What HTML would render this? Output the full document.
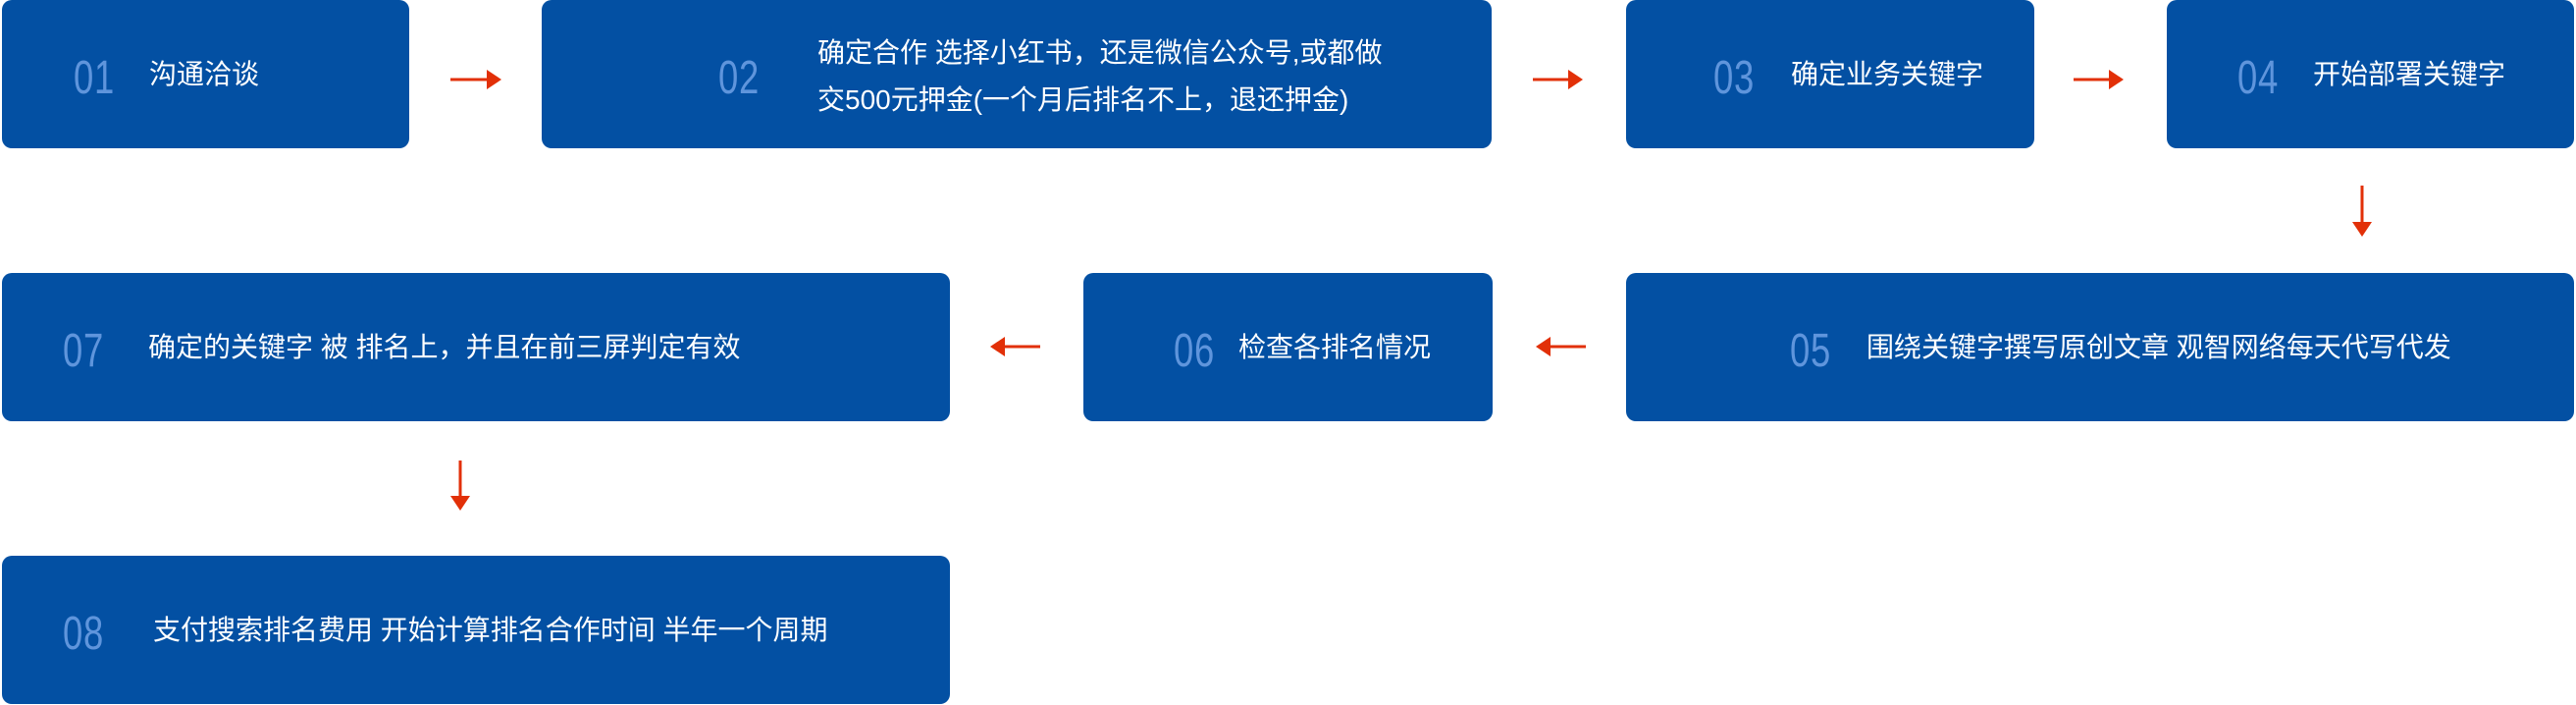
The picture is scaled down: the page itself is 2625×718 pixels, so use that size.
<!DOCTYPE html>
<html><head><meta charset="utf-8"><style>
body{margin:0;width:2625px;height:718px;background:#fff;position:relative;overflow:hidden;font-family:"Liberation Sans","Noto Sans CJK SC",sans-serif}
.b{position:absolute;background:#0350a3;border-radius:10px}
.n{position:absolute;color:#5f95dc;font-size:48px;font-weight:300;line-height:1;transform:scaleX(0.76);transform-origin:left center;letter-spacing:1px}
.t{position:absolute;color:#fff;font-size:28px;line-height:1;white-space:nowrap}
svg{position:absolute;left:0;top:0}
</style></head><body>
<div class="b" style="left:2px;top:0;width:415px;height:151px"></div>
<div class="b" style="left:552px;top:0;width:968px;height:151px"></div>
<div class="b" style="left:1657px;top:0;width:416px;height:151px"></div>
<div class="b" style="left:2208px;top:0;width:415px;height:151px"></div>
<div class="b" style="left:2px;top:278px;width:966px;height:151px"></div>
<div class="b" style="left:1104px;top:278px;width:417px;height:151px"></div>
<div class="b" style="left:1657px;top:278px;width:966px;height:151px"></div>
<div class="b" style="left:2px;top:566px;width:966px;height:151px"></div>

<div class="n" style="left:75px;top:56px">01</div><div class="t" style="left:152px;top:62px">沟通洽谈</div>
<div class="n" style="left:732px;top:56px">02</div>
<div class="t" style="left:833px;top:40px">确定合作 选择小红书，还是微信公众号,或都做</div>
<div class="t" style="left:833px;top:88px">交500元押金(一个月后排名不上，退还押金)</div>
<div class="n" style="left:1746px;top:56px">03</div><div class="t" style="left:1825px;top:62px">确定业务关键字</div>
<div class="n" style="left:2280px;top:56px">04</div><div class="t" style="left:2357px;top:62px">开始部署关键字</div>
<div class="n" style="left:1824px;top:334px">05</div><div class="t" style="left:1902px;top:340px">围绕关键字撰写原创文章 观智网络每天代写代发</div>
<div class="n" style="left:1196px;top:334px">06</div><div class="t" style="left:1262px;top:340px">检查各排名情况</div>
<div class="n" style="left:64px;top:334px">07</div><div class="t" style="left:151px;top:340px">确定的关键字 被 排名上，并且在前三屏判定有效</div>
<div class="n" style="left:64px;top:622px">08</div><div class="t" style="left:156px;top:628px">支付搜索排名费用 开始计算排名合作时间 半年一个周期</div>

<svg width="2625" height="718" viewBox="0 0 2625 718">
<g stroke="#e23008" stroke-width="3" fill="#e23008">
<line x1="459" y1="81" x2="498" y2="81"/><polygon stroke="none" points="496,71 511,81 496,91"/>
<line x1="1562" y1="81" x2="1600" y2="81"/><polygon stroke="none" points="1598,71 1613,81 1598,91"/>
<line x1="2113" y1="81" x2="2151" y2="81"/><polygon stroke="none" points="2149,71 2164,81 2149,91"/>
<line x1="2407" y1="189" x2="2407" y2="228"/><polygon stroke="none" points="2397,226 2417,226 2407,241"/>
<line x1="1578" y1="353" x2="1616" y2="353"/><polygon stroke="none" points="1580,343 1565,353 1580,363"/>
<line x1="1022" y1="353" x2="1060" y2="353"/><polygon stroke="none" points="1024,343 1009,353 1024,363"/>
<line x1="469" y1="469" x2="469" y2="507"/><polygon stroke="none" points="459,505 479,505 469,520"/>
</g></svg>
</body></html>
